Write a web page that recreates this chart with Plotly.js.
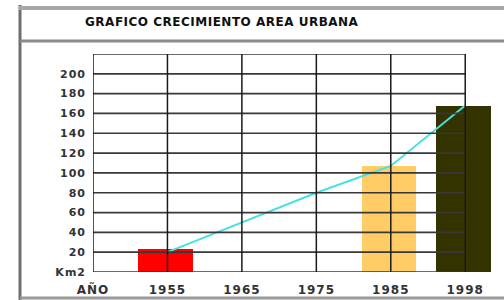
<!DOCTYPE html>
<html>
<head>
<meta charset="utf-8">
<script src="https://cdn.plot.ly/plotly-3.0.1.min.js"></script>
<style>
  html, body { margin: 0; padding: 0; background: #ffffff; }
  #chart { width: 504px; height: 300px; }
  .xtick text, .ytick text { letter-spacing: 1px; }
  .gtitle { letter-spacing: 0.5px; }
</style>
</head>
<body>
<div id="chart"></div>
<script>
// ---- data ----
const titleText = 'GRAFICO CRECIMIENTO AREA URBANA';
const years = ['1955', '1965', '1975', '1985', '1998'];
const areaBars = [23, null, null, 107, 168];      // km2, bars
const areaLine = [20, 50, 80, 107, 168];          // km2, trend line
const barColors = ['#ff0000', '#ffcc66', '#ffcc66', '#ffcc66', '#333300'];
const yTickVals = [0, 20, 40, 60, 80, 100, 120, 140, 160, 180, 200];
const yTickText = ['Km2', '20', '40', '60', '80', '100', '120', '140', '160', '180', '200'];
const xAxisLabel = 'AÑO';

// ---- layout helpers ----
const W = 504, H = 300;
const M = { l: 93, r: 9, t: 54, b: 28 };
const xIdx = years.map((_, i) => i);
const xMin = -1, xMax = 4.4, yMax = 220;
const gridEnd = xIdx[xIdx.length - 1];
const px2x = px => (px - M.l) / (W - M.l - M.r);
const py2y = py => (H - M.b - py) / (H - M.t - M.b);

const shapes = [];
// horizontal grid + box top/bottom
yTickVals.concat([yMax]).forEach(v => {
  shapes.push({ type: 'line', layer: 'above', xref: 'x', yref: 'y',
    x0: xMin, x1: gridEnd, y0: v, y1: v, line: { color: '#383838', width: 1.7 } });
});
// vertical grid + box left/right
[xMin].concat(xIdx).forEach(v => {
  shapes.push({ type: 'line', layer: 'above', xref: 'x', yref: 'y',
    x0: v, x1: v, y0: 0, y1: yMax, line: { color: '#1a1a1a', width: 1.5 } });
});
// outer frame (decorative)
shapes.push({ type: 'line', layer: 'above', xref: 'paper', yref: 'paper',
  x0: px2x(20), x1: px2x(20), y0: py2y(5), y1: py2y(300), line: { color: '#6e6e6e', width: 3 } });
shapes.push({ type: 'line', layer: 'above', xref: 'paper', yref: 'paper',
  x0: px2x(19), x1: px2x(504), y0: py2y(8), y1: py2y(8), line: { color: '#a8a8a8', width: 4 } });
shapes.push({ type: 'line', layer: 'above', xref: 'paper', yref: 'paper',
  x0: px2x(20), x1: px2x(504), y0: py2y(41), y1: py2y(41), line: { color: '#8a8a8a', width: 3 } });
shapes.push({ type: 'line', layer: 'above', xref: 'paper', yref: 'paper',
  x0: px2x(20), x1: px2x(504), y0: py2y(298), y1: py2y(298), line: { color: '#9a9a9a', width: 3 } });

const traces = [
  {
    type: 'bar', x: xIdx, y: areaBars,
    marker: { color: barColors, line: { width: 0 } },
    offset: -0.39, width: 0.73,
    hoverinfo: 'skip', showlegend: false
  },
  {
    type: 'scatter', mode: 'lines', x: xIdx, y: areaLine,
    line: { color: '#48e0e0', width: 2 },
    hoverinfo: 'skip', showlegend: false
  }
];

const tickFont = { family: 'DejaVu Sans', size: 11, color: '#333333', weight: 'bold' };

const layout = {
  width: W, height: H,
  margin: M,
  paper_bgcolor: '#ffffff', plot_bgcolor: '#ffffff',
  title: {
    text: titleText,
    x: 85 / W, xanchor: 'left', xref: 'container',
    y: 1 - 22 / H, yanchor: 'middle', yref: 'container',
    font: { family: 'DejaVu Sans', size: 12, color: '#111111', weight: 'bold' }
  },
  xaxis: {
    type: 'linear', range: [xMin, xMax],
    tickvals: [xMin].concat(xIdx), ticktext: [xAxisLabel].concat(years),
    showgrid: false, zeroline: false, showline: false, ticks: '',
    ticklabelstandoff: 9,
    tickfont: Object.assign({}, tickFont, { size: 12 }),
    fixedrange: true
  },
  yaxis: {
    range: [0, yMax],
    tickvals: yTickVals, ticktext: yTickText,
    showgrid: false, zeroline: false, showline: false, ticks: '',
    ticklabelstandoff: 6,
    tickfont: tickFont,
    fixedrange: true
  },
  shapes: shapes,
  bargap: 0
};

Plotly.newPlot('chart', traces, layout, { displayModeBar: false, staticPlot: true });
</script>
</body>
</html>
